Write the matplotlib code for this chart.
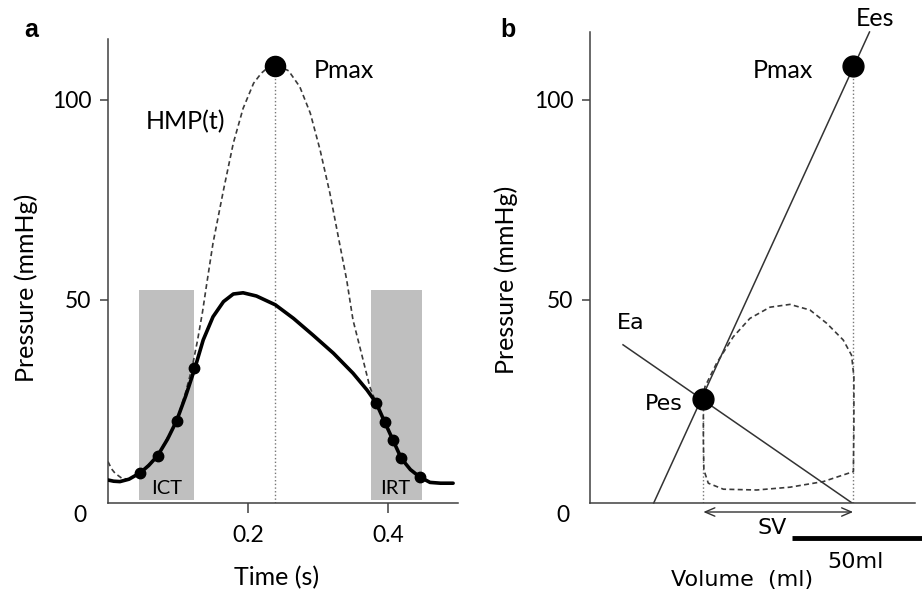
import matplotlib
matplotlib.use("Agg")
import matplotlib.pyplot as plt

plt.rcParams['font.family'] = ['Lato', 'DejaVu Sans']

# ---- panel a: pressure vs time ----
t_solid = [0.0, 0.008, 0.017, 0.030, 0.046, 0.058, 0.071, 0.085, 0.098, 0.111,
           0.124, 0.136, 0.150, 0.165, 0.179, 0.193, 0.212, 0.239, 0.265, 0.293,
           0.322, 0.350, 0.370, 0.383, 0.395, 0.407, 0.419, 0.432, 0.445, 0.460,
           0.475, 0.493]
p_solid = [5.0, 4.7, 4.6, 5.2, 6.8, 8.6, 11.1, 15.2, 19.8, 26.0,
           32.9, 40.0, 45.8, 49.6, 51.5, 51.8, 51.0, 48.8, 45.4, 41.2,
           36.7, 31.7, 27.5, 24.3, 19.6, 15.0, 10.4, 7.6, 5.8, 4.4,
           4.2, 4.2]

t_hmp = [0.0, 0.005, 0.010, 0.020, 0.030, 0.046, 0.071, 0.098, 0.111, 0.120,
         0.128, 0.135, 0.141, 0.150, 0.165, 0.179, 0.193, 0.208, 0.219, 0.229,
         0.239, 0.250, 0.258, 0.274, 0.289, 0.303, 0.317, 0.329, 0.341, 0.350,
         0.362, 0.374, 0.383, 0.395, 0.407, 0.419, 0.432, 0.445]
p_hmp = [9.6, 7.8, 6.7, 5.4, 5.2, 6.8, 11.1, 19.8, 27.0, 33.0,
         40.0, 47.0, 54.0, 64.2, 77.5, 89.2, 97.9, 104.2, 106.7, 108.2,
         108.5, 108.0, 107.3, 103.3, 96.7, 87.5, 76.7, 65.8, 55.0, 45.0,
         36.7, 28.3, 24.3, 19.6, 15.0, 10.4, 7.6, 5.8]

t_ict_dots = [0.046, 0.071, 0.098, 0.123]
p_ict_dots = [6.8, 11.1, 19.8, 33.0]
t_irt_dots = [0.383, 0.395, 0.407, 0.419, 0.445]
p_irt_dots = [24.3, 19.6, 15.0, 10.4, 5.8]

ict_span = (0.044, 0.123)
irt_span = (0.375, 0.449)
shade_top = 52.5

t_pmax, p_pmax = 0.239, 108.5

# ---- panel b: pressure vs volume ----
v_loop = [43.6, 44.2, 48.7, 55.1, 61.5, 69.2, 76.9, 84.6, 91.0, 97.4,
          100.6, 101.5, 101.5, 101.3, 89.7, 76.9, 64.1, 51.3, 45.5, 43.8,
          43.6, 43.6]
p_loop = [25.3, 28.3, 34.2, 40.8, 45.4, 48.2, 48.9, 47.5, 44.2, 40.0,
          36.2, 30.8, 19.2, 7.1, 4.6, 3.2, 2.5, 2.7, 4.2, 7.5,
          15.0, 21.7]

ees_v = [24.5, 107.5]
ees_p = [-0.75, 117.0]
ea_v = [12.7, 100.8]
ea_p = [38.8, -0.75]

v_pes, p_pes = 43.6, 25.3
v_pmax, p_pmax_b = 101.2, 108.5

fig = plt.figure(figsize=(9.22, 5.96), dpi=100)
ax1 = fig.add_axes([108/922, 93/596, 350/922, 464/596])
ax2 = fig.add_axes([590/922, 93/596, 325/922, 471/596])

axis_col = '#404040'
dash_col = '#3a3a3a'

for ax in (ax1, ax2):
    for s in ('top', 'right'):
        ax.spines[s].set_visible(False)
    for s in ('left', 'bottom'):
        ax.spines[s].set_color(axis_col)
        ax.spines[s].set_linewidth(1.1)
    ax.set_yticks([50, 100])
    ax.tick_params(axis='y', direction='out', length=6, width=1.1,
                   color=axis_col, labelsize=16.5, pad=6)

# panel a
ax1.set_xlim(0, 0.5)
ax1.set_ylim(-0.75, 115.25)
ax1.axvspan(ict_span[0], ict_span[1], ymin=0.75/116, ymax=(shade_top + 0.75)/116,
            color='#bfbfbf', lw=0, zorder=0)
ax1.axvspan(irt_span[0], irt_span[1], ymin=0.75/116, ymax=(shade_top + 0.75)/116,
            color='#bfbfbf', lw=0, zorder=0)
ax1.plot([t_pmax, t_pmax], [-0.75, p_pmax], color='#777777', lw=1, ls=':', zorder=1)
ax1.plot(t_hmp, p_hmp, color=dash_col, lw=1.2, dashes=(3, 2), zorder=2)
ax1.plot(t_solid, p_solid, color='black', lw=2.6, solid_capstyle='round', zorder=3)
ax1.plot(t_ict_dots + t_irt_dots, p_ict_dots + p_irt_dots, 'o', color='black',
         ms=7.5, zorder=4)
ax1.plot([t_pmax], [p_pmax], 'o', color='black', ms=14.5, zorder=4)

ax1.set_xticks([0.2, 0.4])
ax1.set_xticklabels(['0.2', '0.4'])
ax1.tick_params(axis='x', direction='out', length=7, width=1.1, color=axis_col,
                labelsize=16.5, pad=9)

ax1.text(-0.04, -3.75, '0', fontsize=16.5, ha='center', va='center', clip_on=False)
ax1.text(0.241, -19.5, 'Time (s)', fontsize=18, ha='center', va='center', clip_on=False)
ax1.text(0.111, 94.5, 'HMP(t)', fontsize=18, ha='center', va='center')
ax1.text(0.294, 107.5, 'Pmax', fontsize=18, ha='left', va='center')
ax1.text(0.084, 2.8, 'ICT', fontsize=14.5, ha='center', va='center')
ax1.text(0.410, 2.8, 'IRT', fontsize=14.5, ha='center', va='center')

# panel b
ax2.set_xlim(0, 125)
ax2.set_ylim(-0.75, 117)
ax2.set_xticks([])
ax2.plot(ees_v, ees_p, color='#333333', lw=1.1, zorder=2, clip_on=False)
ax2.plot(ea_v, ea_p, color='#333333', lw=1.1, zorder=2)
ax2.plot([v_pes, v_pes], [-0.75, p_pes], color='#777777', lw=1, ls=':', zorder=1)
ax2.plot([v_pmax, v_pmax], [-0.75, p_pmax_b], color='#777777', lw=1, ls=':', zorder=1)
ax2.plot(v_loop, p_loop, color=dash_col, lw=1.2, dashes=(3, 2), zorder=2)
ax2.plot([v_pes], [p_pes], 'o', color='black', ms=15, zorder=4)
ax2.plot([v_pmax], [p_pmax_b], 'o', color='black', ms=15, zorder=4)

ax2.annotate('', xy=(v_pes, -3), xytext=(v_pmax, -3), annotation_clip=False,
             arrowprops=dict(arrowstyle='<->,head_length=0.7,head_width=0.3',
                             color='#333333', lw=1, shrinkA=0, shrinkB=0))
ax2.plot([77.7, 127.7], [-9.5, -9.5], color='black', lw=3.5, clip_on=False,
         solid_capstyle='butt')

vfont = ['DejaVu Sans']
ax2.text(-10.4, -3.75, '0', fontsize=16.5, ha='center', va='center', clip_on=False)
ax2.text(70, -7, 'SV', fontsize=16, family=vfont, ha='center', va='center', clip_on=False)
ax2.text(102.3, -15.5, '50ml', fontsize=16, family=vfont, ha='center', va='center',
         clip_on=False)
ax2.text(58.5, -20, 'Volume  (ml)', fontsize=16, family=vfont, ha='center',
         va='center', clip_on=False)
ax2.text(15.7, 44.2, 'Ea', fontsize=16, family=vfont, ha='center', va='center')
ax2.text(35.8, 24.0, 'Pes', fontsize=16, family=vfont, ha='right', va='center')
ax2.text(85.8, 107.5, 'Pmax', fontsize=18, ha='right', va='center')
ax2.text(109.6, 120.5, 'Ees', fontsize=18, ha='center', va='center', clip_on=False)

fig.text(26/922, 1 - 288/596, 'Pressure (mmHg)', rotation=90, fontsize=18,
         ha='center', va='center')
fig.text(506/922, 1 - 280/596, 'Pressure (mmHg)', rotation=90, fontsize=18,
         ha='center', va='center')
fig.text(31/922, 1 - 30/596, 'a', fontsize=18, fontweight='bold',
         family=['Liberation Sans'], ha='center', va='center')
fig.text(508/922, 1 - 30/596, 'b', fontsize=18, fontweight='bold',
         family=['Liberation Sans'], ha='center', va='center')

fig.savefig('out.png', dpi=100)
